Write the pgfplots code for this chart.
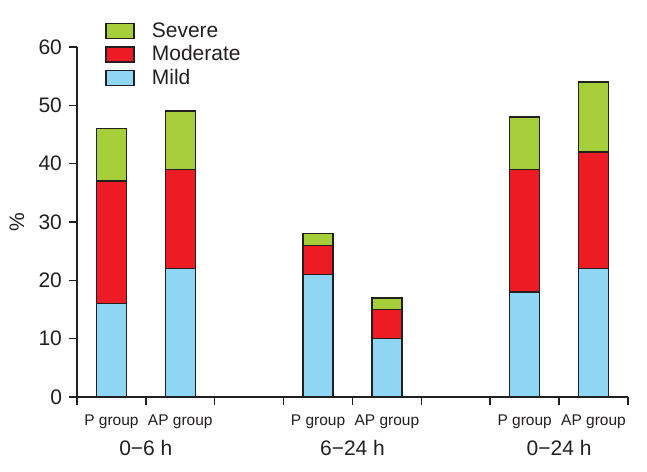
\documentclass[border=0pt]{standalone}
\usepackage{pgfplots}
\pgfplotsset{compat=1.18}
\usepackage{fontspec}
\setmainfont{Liberation Sans}
\definecolor{mild}{RGB}{142,214,244}
\definecolor{moderate}{RGB}{237,28,36}
\definecolor{severe}{RGB}{166,206,57}
\definecolor{ink}{RGB}{35,31,32}
\begin{document}
\begin{tikzpicture}
\begin{axis}[
  at={(0pt,0pt)}, anchor=south west,
  scale only axis, width=275.5pt, height=175pt,
  ybar stacked, bar width=15pt,
  xmin=0, xmax=8, ymin=0, ymax=60,
  axis lines*=left,
  clip=false,
  xtick={0,1,...,8}, xticklabels={},
  ytick={0,10,...,60},
  tick align=outside, major tick length=4pt,
  tick style={ink, line width=0.75pt},
  axis line style={ink, line width=0.75pt},
  tick label style={font=\fontsize{10.5}{12}\selectfont, text=ink},
  /pgf/number format/assume math mode=true,
  extra x ticks={0.5,1.5,3.5,4.5,6.5,7.5},
  extra x tick labels={P group, AP group, P group, AP group, P group, AP group},
  extra x tick style={major tick length=0pt, tick label style={font=\fontsize{7.75}{9}\selectfont, yshift=-5.5pt}},
  legend style={at={(0.0508,1.075)}, anchor=north west, draw=none, fill=none,
    font=\fontsize{10.5}{12}\selectfont, text=ink, inner sep=0pt,
    nodes={inner sep=0pt, text height=8pt, text depth=2pt},
    row sep=1.75pt, legend cell align=left,
    /tikz/every odd column/.append style={column sep=8.5pt}},
  legend image code/.code={\draw[#1] (0pt,-3.75pt) rectangle (14pt,3.75pt);},
  reverse legend,
]
\addplot[fill=mild, draw=ink, line width=0.75pt] coordinates {(0.5,16) (1.5,22) (3.5,21) (4.5,10) (6.5,18) (7.5,22)};
\addplot[fill=moderate, draw=ink, line width=0.75pt] coordinates {(0.5,21) (1.5,17) (3.5,5) (4.5,5) (6.5,21) (7.5,20)};
\addplot[fill=severe, draw=ink, line width=0.75pt] coordinates {(0.5,9) (1.5,10) (3.5,2) (4.5,2) (6.5,9) (7.5,12)};
\legend{Mild, Moderate, Severe}
\node[font=\fontsize{10.5}{12}\selectfont, text=ink] at (axis cs:1,0) [yshift=-25.5pt] {0−6 h};
\node[font=\fontsize{10.5}{12}\selectfont, text=ink] at (axis cs:4,0) [yshift=-25.5pt] {6−24 h};
\node[font=\fontsize{10.5}{12}\selectfont, text=ink] at (axis cs:7,0) [yshift=-25.5pt] {0−24 h};
\node[font=\fontsize{10.5}{12}\selectfont, text=ink, xshift=-30pt, rotate=90] at (rel axis cs:0,0.5) {\%};
\end{axis}
\pgfresetboundingbox
\path[use as bounding box] (-38.5pt,-37pt) rectangle (285pt,198.5pt);
\end{tikzpicture}
\end{document}
